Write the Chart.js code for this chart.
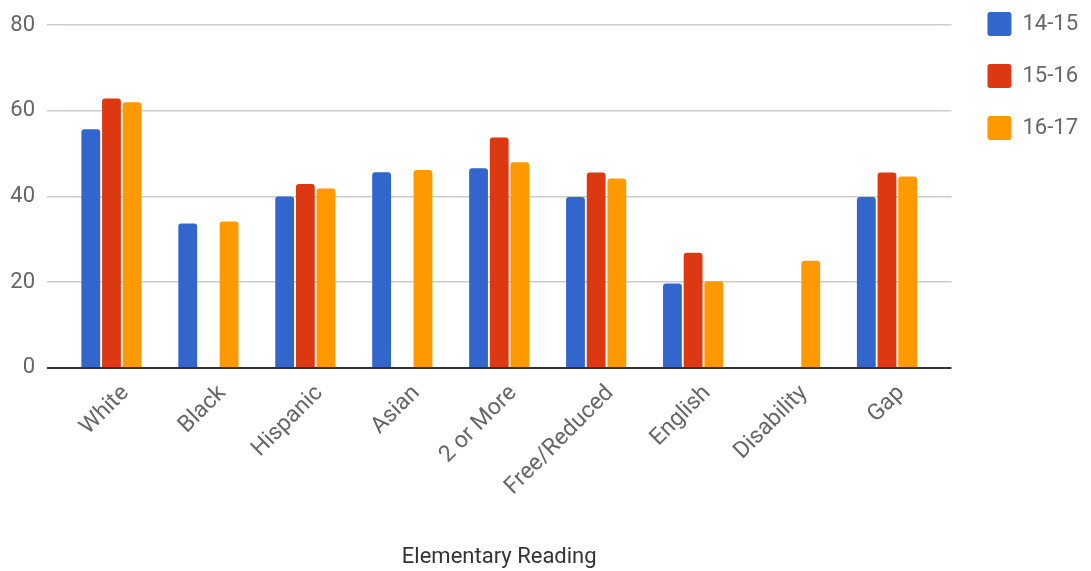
<!DOCTYPE html>
<html>
<head>
<meta charset="utf-8">
<script src="https://cdn.jsdelivr.net/npm/chart.js@4.4.1/dist/chart.umd.min.js"></script>
<style>
  html, body { margin: 0; padding: 0; background: #fff; }
  #wrap { width: 1091px; height: 571px; position: relative; }
</style>
</head>
<body>
<div id="wrap"><canvas id="chart"></canvas></div>
<script>
const categories = ['White', 'Black', 'Hispanic', 'Asian', '2 or More', 'Free/Reduced', 'English', 'Disability', 'Gap'];
const seriesNames = ['14-15', '15-16', '16-17'];
const values1415 = [55.7, 33.7, 40, 45.7, 46.6, 39.9, 19.7, null, 39.9];
const values1516 = [62.9, null, 42.9, null, 53.8, 45.6, 26.9, null, 45.6];
const values1617 = [62, 34.2, 41.9, 46.2, 48, 44.2, 20.2, 25, 44.7];
const yTicks = [0, 20, 40, 60, 80];
const colors = ['#3366cc', '#dc3912', '#ff9900'];

const FONT = 'Roboto, sans-serif';

function gridColor(ctx) {
  return ctx.tick && ctx.tick.value === 0 ? '#333333' : '#cccccc';
}
function gridWidth(ctx) {
  return ctx.tick && ctx.tick.value === 0 ? 2 : 1.5;
}
function fixedTicks(scale) {
  scale.ticks = yTicks.map(function (v) { return { value: v }; });
}

// legend sits higher than chart.js puts it
const legendNudge = {
  id: 'legendNudge',
  afterLayout: function (chart) {
    chart.legend.top -= 30;
    chart.legend.bottom -= 30;
  }
};

const seriesValues = [values1415, values1516, values1617];
const datasets = seriesNames.map(function (name, i) {
  return {
    label: name,
    data: seriesValues[i],
    backgroundColor: colors[i],
    borderRadius: { topLeft: 3, topRight: 3 },
    borderSkipped: 'bottom',
    categoryPercentage: 0.64,
    barPercentage: 0.91
  };
});

new Chart(document.getElementById('chart'), {
  type: 'bar',
  data: { labels: categories, datasets: datasets },
  plugins: [legendNudge],
  options: {
    responsive: true,
    maintainAspectRatio: false,
    animation: false,
    layout: { padding: { left: 0, right: 3, top: 14, bottom: 0 } },
    plugins: {
      legend: {
        position: 'right',
        align: 'start',
        labels: {
          boxWidth: 24,
          boxHeight: 24,
          padding: 28,
          color: '#666666',
          font: { family: FONT, size: 22 },
          useBorderRadius: true,
          borderRadius: 3
        }
      },
      tooltip: { enabled: false }
    },
    scales: {
      x: {
        grid: { display: false },
        border: { display: false },
        ticks: {
          color: '#666666',
          font: { family: FONT, size: 23 },
          minRotation: 45,
          maxRotation: 45,
          padding: 4,
          labelOffset: 14
        },
        title: {
          display: true,
          text: 'Elementary Reading',
          color: '#333333',
          font: { family: FONT, size: 22 },
          padding: { top: 40, bottom: 0 }
        }
      },
      y: {
        min: 0,
        max: 80,
        afterBuildTicks: fixedTicks,
        afterFit: function (scale) { scale.width = 63; },
        border: { display: false },
        grid: { color: gridColor, lineWidth: gridWidth, tickLength: 16 },
        ticks: {
          color: '#666666',
          font: { family: FONT, size: 22 },
          padding: 12
        }
      },
      y2: {
        position: 'right',
        min: 0,
        max: 80,
        afterBuildTicks: fixedTicks,
        afterFit: function (scale) { scale.width = 24; },
        border: { display: false },
        grid: { color: gridColor, lineWidth: gridWidth, tickLength: 16, drawOnChartArea: false },
        ticks: { display: false }
      }
    }
  }
});
</script>
</body>
</html>
